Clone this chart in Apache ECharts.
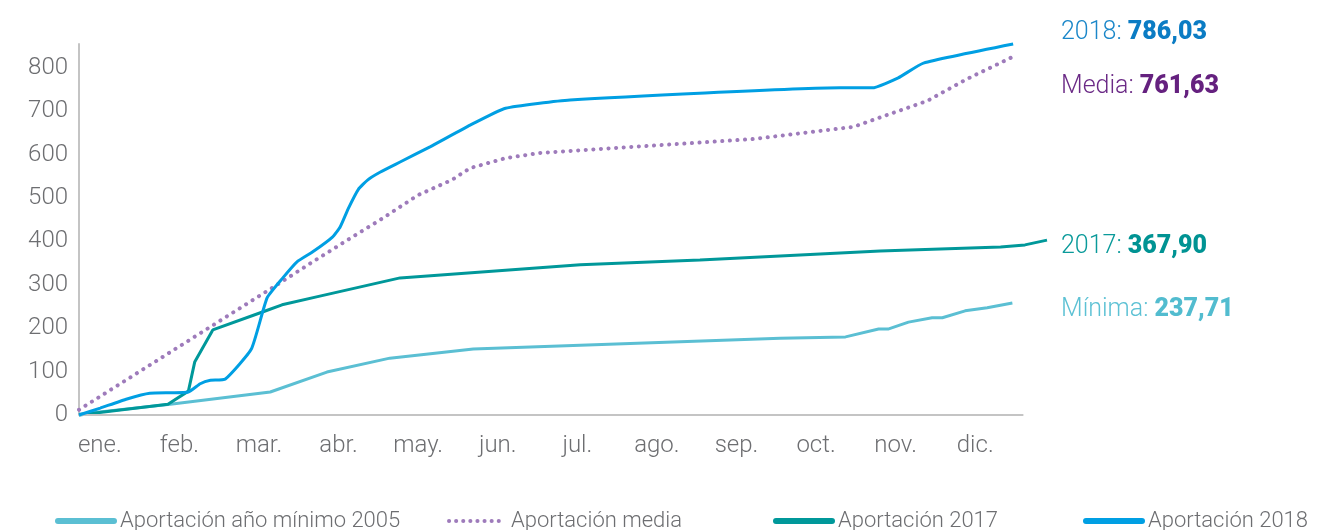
<!DOCTYPE html>
<html>
<head>
<meta charset="utf-8">
<script src="https://cdn.jsdelivr.net/npm/echarts@6/dist/echarts.min.js"></script>
<style>
html,body{margin:0;padding:0;background:#fff;}
#chart{width:1326px;height:530px;}
</style>
</head>
<body>
<div id="chart"></div>
<script>
// ---- data (x = fractional month from 1 Jan, y = accumulated value) ----
const monthLabels = ['ene.', 'feb.', 'mar.', 'abr.', 'may.', 'jun.', 'jul.', 'ago.', 'sep.', 'oct.', 'nov.', 'dic.'];

const minimaMonths = [0, 1.16, 2.43, 3.15, 3.95, 5.01, 6.37, 8.91, 9.74, 10.16, 10.28, 10.54, 10.84, 10.97, 11.26, 11.54, 11.86];
const minimaValues = [2, 25, 53, 99, 131, 152, 161, 177, 180, 198, 198, 214, 224, 224, 240, 247, 258];

const mediaMonths = [0, 2.55, 2.97, 3.41, 3.83, 4.31, 4.74, 4.97, 5.42, 5.86, 8.57, 9.84, 10.09, 10.78, 11.29, 11.86];
const mediaValues = [12, 304, 353, 403, 450, 507, 542, 569, 592, 604, 636, 664, 680, 724, 775, 825];

const y2017Months = [0, 1.13, 1.39, 1.47, 1.70, 2.34, 2.58, 3.06, 4.08, 6.37, 7.89, 10.18, 11.71, 12.02, 12.30];
const y2017Values = [0, 25, 55, 122, 196, 238, 254, 274, 316, 346, 357, 378, 387, 392, 403];

const y2018Months = [0, 0.27, 0.61, 0.90, 1.39, 1.54, 1.67, 1.86, 2.19, 2.39, 2.59, 2.77, 2.97, 3.22, 3.32, 3.42, 3.55, 3.67, 3.83, 4.08, 4.46, 4.97, 5.42, 6.24, 9.67, 10.08, 10.41, 10.73, 11.87];
const y2018Values = [0, 16, 37, 50, 53, 72, 80, 83, 152, 270, 316, 353, 376, 410, 434, 475, 520, 542, 560, 583, 618, 668, 707, 726, 754, 754, 777, 811, 855];

const xAxisEnd = 12;      // month where the drawn x axis ends
const xDataEnd = 12.3;    // the 2017 line runs a little past the axis

const seriesNames = ['Aportación año mínimo 2005', 'Aportación media', 'Aportación 2017', 'Aportación 2018'];
const endLabels = [
  ['2018: ', '786,03'],
  ['Media: ', '761,63'],
  ['2017: ', '367,90'],
  ['Mínima: ', '237,71']
];

function pairs(xs, ys) { return xs.map((x, i) => [x, ys[i]]); }

const C_MIN = '#5bbfd3', C_MED = '#9e7bbb', C_17 = '#00989a', C_18 = '#009fe3';
const FONT = 'Roboto';
const GREY = '#6d6e71';
const AXIS = '#c4c4c4';

const chart = echarts.init(document.getElementById('chart'), null, {renderer: 'canvas'});

function legendAt(left, name, color, dotted) {
  return {
    left: left, top: 510, itemWidth: 56, itemHeight: 14, itemGap: 0, padding: 0,
    data: [name],
    itemStyle: {opacity: 0},
    lineStyle: dotted ? {width: 4, type: [0.1, 7], cap: 'round', color: color}
                      : {width: 6, cap: 'round', color: color},
    textStyle: {fontFamily: FONT, fontWeight: 300, fontSize: 22, color: GREY, padding: [0, 0, 0, 1]}
  };
}

function sideText(top, parts, c1, c2) {
  return {
    type: 'text', left: 1061, top: top,
    style: {
      text: '{a|' + parts[0] + '}{b|' + parts[1] + '}',
      rich: {
        a: {fontFamily: FONT, fontWeight: 300, fontSize: 25, fill: c1},
        b: {fontFamily: FONT, fontWeight: 900, fontSize: 25, fill: c2}
      }
    }
  };
}

chart.setOption({
  animation: false,
  backgroundColor: '#fff',
  grid: [
    {left: 79, right: 1326 - 1047, top: 44, bottom: 115},
    {left: 60, width: 955, top: 44, bottom: 115}
  ],
  xAxis: [
    {
      type: 'value', gridIndex: 0, min: 0, max: xDataEnd,
      axisLine: {show: false},
      axisTick: {show: false}, splitLine: {show: false}, axisLabel: {show: false}
    },
    {
      type: 'category', gridIndex: 1, data: monthLabels, boundaryGap: true,
      axisLine: {show: false}, axisTick: {show: false}, splitLine: {show: false},
      axisLabel: {fontFamily: FONT, fontWeight: 300, fontSize: 24, color: GREY, margin: 19}
    }
  ],
  yAxis: [
    {
      type: 'value', gridIndex: 0, min: 0, max: 855, interval: 100,
      axisLine: {show: true, lineStyle: {color: AXIS, width: 2}},
      axisTick: {show: false}, splitLine: {show: false},
      axisLabel: {
        fontFamily: FONT, fontWeight: 300, fontSize: 24, color: GREY, margin: 11,
        padding: [5, 0, 0, 0],
        showMaxLabel: false,
        formatter: v => (v % 100 === 0 ? String(v) : '')
      }
    },
    {type: 'value', gridIndex: 1, show: false, min: 0, max: 855}
  ],
  legend: [
    legendAt(55, seriesNames[0], C_MIN, false),
    legendAt(447, seriesNames[1], C_MED, true),
    legendAt(773, seriesNames[2], C_17, false),
    legendAt(1083, seriesNames[3], C_18, false)
  ],
  series: [
    {
      name: seriesNames[0], type: 'line', xAxisIndex: 0, yAxisIndex: 0,
      data: pairs(minimaMonths, minimaValues), symbol: 'none', clip: false,
      lineStyle: {color: C_MIN, width: 3}, itemStyle: {color: C_MIN}, z: 2,
      markLine: {
        silent: true, symbol: 'none', label: {show: false}, animation: false,
        lineStyle: {color: AXIS, width: 2, type: 'solid'},
        data: [[{coord: [0, 0]}, {coord: [xAxisEnd, 0]}]]
      }
    },
    {
      name: seriesNames[1], type: 'line', xAxisIndex: 0, yAxisIndex: 0,
      data: pairs(mediaMonths, mediaValues), symbol: 'none', clip: false,
      lineStyle: {color: C_MED, width: 4, type: [0.1, 7.5], cap: 'round'}, itemStyle: {color: C_MED}, z: 3
    },
    {
      name: seriesNames[2], type: 'line', xAxisIndex: 0, yAxisIndex: 0,
      data: pairs(y2017Months, y2017Values), symbol: 'none', clip: false,
      lineStyle: {color: C_17, width: 3}, itemStyle: {color: C_17}, z: 4
    },
    {
      name: seriesNames[3], type: 'line', xAxisIndex: 0, yAxisIndex: 0,
      data: pairs(y2018Months, y2018Values), symbol: 'none', clip: false, smooth: 0.15,
      lineStyle: {color: C_18, width: 3}, itemStyle: {color: C_18}, z: 5
    }
  ],
  graphic: [
    sideText(20, endLabels[0], '#1b87c9', '#0b7cc4'),
    sideText(74, endLabels[1], '#6b2a86', '#65217f'),
    sideText(234, endLabels[2], '#0a9a9a', '#009393'),
    sideText(297, endLabels[3], '#5cc1d4', '#52bccf')
  ]
});
</script>
</body>
</html>
